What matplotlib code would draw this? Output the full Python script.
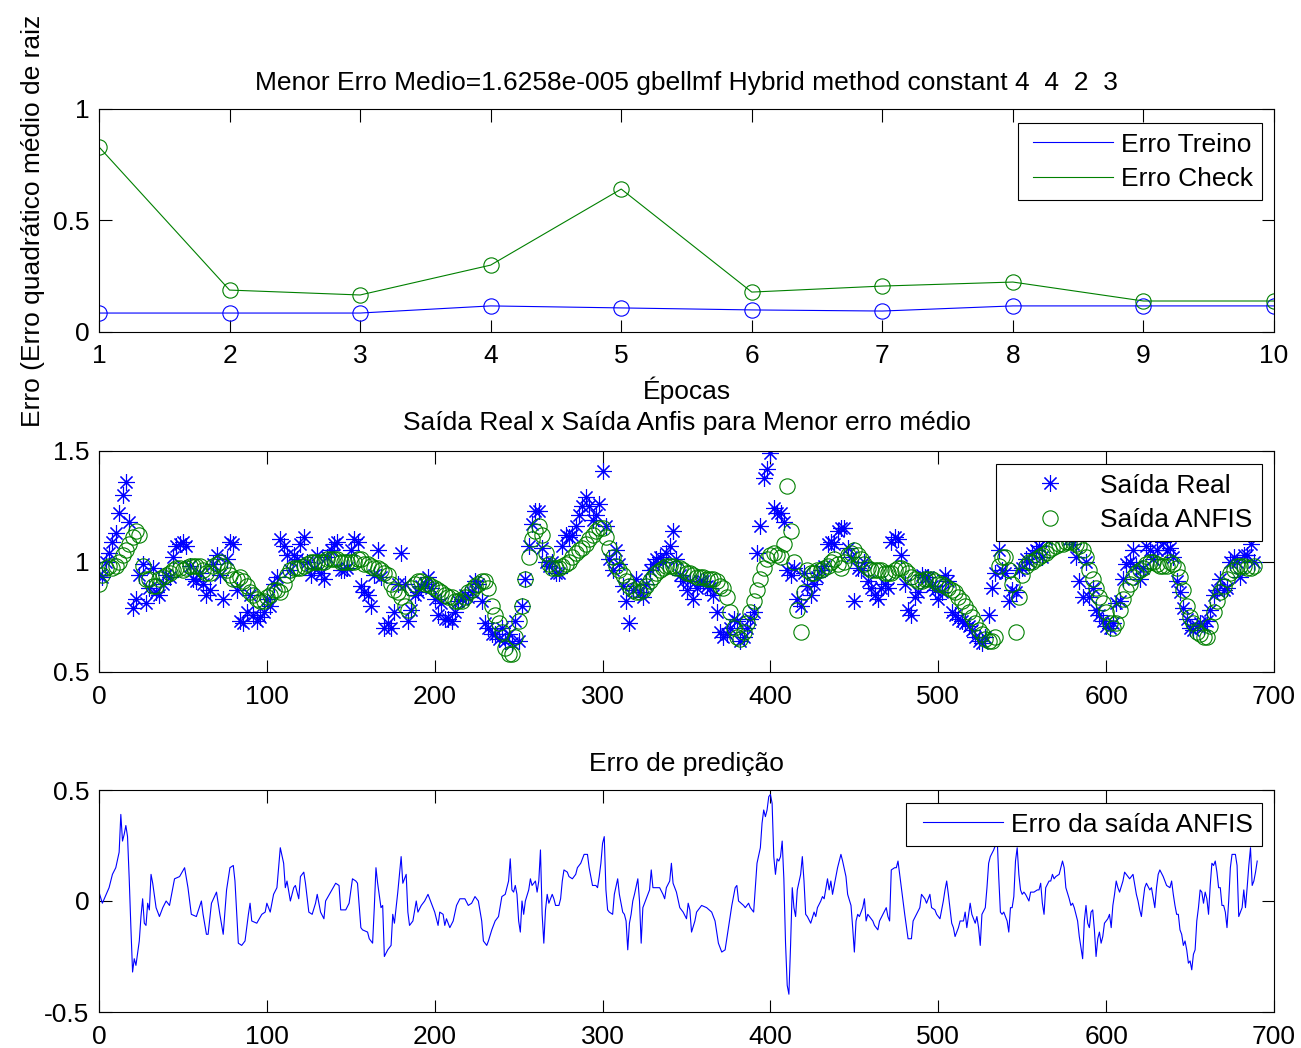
import matplotlib
matplotlib.use("Agg")
import matplotlib.pyplot as plt
from matplotlib.legend_handler import HandlerLine2D

plt.rcParams["font.family"] = ["Liberation Sans", "DejaVu Sans"]
plt.rcParams["font.size"] = 19

# --- Erro por época -------------------------------------------------------
epocas = [1, 2, 3, 4, 5, 6, 7, 8, 9, 10]
erro_treino = [0.085, 0.085, 0.085, 0.117, 0.108, 0.099, 0.094, 0.117, 0.117, 0.117]
erro_check = [0.830, 0.188, 0.166, 0.300, 0.641, 0.179, 0.206, 0.224, 0.139, 0.139]

# --- Saídas (amostra a cada 2 pontos) -------------------------------------
amostras = list(range(0, 690, 2))
saida_anfis = [
    0.90, 0.94, 0.97, 0.98, 0.97, 0.98, 1.00, 1.03, 1.05, 1.08,
    1.11, 1.14, 1.12, 0.98, 0.92, 0.92, 0.89, 0.89, 0.92, 0.93,
    0.94, 0.95, 0.96, 0.97, 0.97, 0.96, 0.97, 0.98, 0.98, 0.98,
    0.98, 0.96, 0.95, 0.95, 0.98, 0.99, 1.00, 0.98, 0.96, 0.94,
    0.92, 0.92, 0.93, 0.91, 0.89, 0.86, 0.85, 0.83, 0.82, 0.82,
    0.84, 0.85, 0.87, 0.87, 0.86, 0.90, 0.94, 0.96, 0.97, 0.97,
    0.97, 0.98, 0.99, 1.00, 1.00, 1.00, 1.00, 1.00, 1.01, 1.01,
    1.01, 1.01, 1.00, 1.00, 1.00, 1.00, 1.00, 1.01, 1.01, 0.99,
    0.99, 0.98, 0.97, 0.97, 0.96, 0.95, 0.94, 0.90, 0.87, 0.86,
    0.84, 0.80, 0.78, 0.88, 0.90, 0.91, 0.91, 0.90, 0.90, 0.89,
    0.88, 0.87, 0.86, 0.85, 0.84, 0.84, 0.82, 0.82, 0.82, 0.84,
    0.86, 0.87, 0.89, 0.90, 0.91, 0.91, 0.88, 0.80, 0.76, 0.72,
    0.68, 0.61, 0.58, 0.58, 0.66, 0.73, 0.80, 0.92, 1.02, 1.10,
    1.14, 1.16, 1.12, 1.04, 0.99, 0.97, 0.97, 0.97, 0.98, 0.99,
    1.00, 1.02, 1.04, 1.05, 1.06, 1.08, 1.10, 1.12, 1.14, 1.15,
    1.15, 1.11, 1.06, 1.02, 0.98, 0.96, 0.94, 0.91, 0.89, 0.87,
    0.86, 0.86, 0.87, 0.89, 0.91, 0.93, 0.95, 0.96, 0.97, 0.98,
    0.98, 0.98, 0.97, 0.97, 0.96, 0.95, 0.95, 0.94, 0.93, 0.93,
    0.93, 0.92, 0.92, 0.92, 0.91, 0.89, 0.88, 0.84, 0.77, 0.70,
    0.66, 0.65, 0.68, 0.72, 0.77, 0.82, 0.87, 0.92, 0.97, 1.01,
    1.03, 1.04, 1.03, 1.02, 1.08, 1.34, 1.14, 1.00, 0.78, 0.68,
    0.86, 0.96, 0.95, 0.95, 0.96, 0.96, 0.97, 0.98, 1.00, 1.01,
    0.99, 0.97, 1.00, 1.03, 1.04, 1.05, 1.03, 1.01, 0.99, 0.97,
    0.96, 0.96, 0.96, 0.96, 0.95, 0.95, 0.95, 0.96, 0.97, 0.97,
    0.96, 0.95, 0.93, 0.92, 0.91, 0.91, 0.92, 0.92, 0.92, 0.91,
    0.90, 0.90, 0.89, 0.88, 0.87, 0.86, 0.84, 0.82, 0.80, 0.77,
    0.75, 0.72, 0.69, 0.67, 0.65, 0.64, 0.64, 0.66, 0.98, 1.02,
    1.02, 0.96, 0.90, 0.68, 0.84, 0.94, 0.98, 1.00, 1.00, 1.01,
    1.02, 1.03, 1.04, 1.05, 1.06, 1.07, 1.08, 1.08, 1.09, 1.09,
    1.09, 1.08, 1.07, 1.05, 1.02, 0.96, 0.92, 0.88, 0.84, 0.81,
    0.77, 0.72, 0.70, 0.72, 0.78, 0.83, 0.87, 0.90, 0.93, 0.95,
    0.96, 0.97, 0.99, 1.00, 1.00, 0.99, 0.98, 0.98, 0.98, 1.00,
    0.99, 0.97, 0.93, 0.87, 0.80, 0.75, 0.72, 0.68, 0.67, 0.66,
    0.66, 0.71, 0.77, 0.82, 0.86, 0.89, 0.92, 0.95, 0.96, 0.98,
    0.98, 0.98, 0.97, 0.97, 0.98,
]
saida_real = [
    0.94, 0.93, 1.00, 1.04, 1.09, 1.13, 1.22, 1.30, 1.36, 1.18,
    0.79, 0.83, 0.94, 0.99, 0.81, 0.88, 0.97, 0.86, 0.85, 0.90,
    0.94, 0.93, 1.02, 1.07, 1.08, 1.09, 1.07, 0.98, 0.92, 0.91,
    0.95, 0.90, 0.85, 0.87, 0.99, 1.03, 0.94, 0.83, 1.01, 1.09,
    1.08, 0.87, 0.73, 0.72, 0.77, 0.85, 0.76, 0.73, 0.75, 0.77,
    0.83, 0.80, 0.90, 0.93, 1.10, 1.07, 1.03, 0.96, 1.03, 1.01,
    1.08, 1.11, 1.00, 0.94, 0.97, 1.03, 0.95, 0.92, 1.02, 1.05,
    1.08, 1.09, 0.96, 0.96, 0.97, 1.05, 1.10, 1.09, 0.89, 0.86,
    0.85, 0.80, 0.94, 1.05, 0.93, 0.70, 0.72, 0.70, 0.77, 0.90,
    1.04, 0.90, 0.73, 0.78, 0.85, 0.86, 0.89, 0.90, 0.93, 0.88,
    0.83, 0.76, 0.81, 0.74, 0.74, 0.73, 0.77, 0.82, 0.83, 0.85,
    0.84, 0.86, 0.91, 0.90, 0.82, 0.72, 0.70, 0.67, 0.67, 0.65,
    0.70, 0.64, 0.67, 0.63, 0.73, 0.64, 0.80, 0.92, 1.07, 1.17,
    1.23, 1.23, 1.06, 1.00, 0.98, 1.00, 0.95, 0.95, 1.07, 1.12,
    1.11, 1.12, 1.16, 1.21, 1.25, 1.29, 1.25, 1.19, 1.21, 1.26,
    1.41, 1.16, 1.01, 0.96, 1.05, 0.99, 0.89, 0.82, 0.72, 0.87,
    0.92, 0.86, 0.84, 0.90, 0.96, 0.99, 1.01, 1.02, 1.00, 1.04,
    1.07, 1.14, 1.01, 0.94, 0.91, 0.87, 0.91, 0.83, 0.88, 0.91,
    0.91, 0.89, 0.88, 0.85, 0.77, 0.68, 0.66, 0.67, 0.70, 0.74,
    0.73, 0.64, 0.66, 0.70, 0.74, 0.77, 1.04, 1.16, 1.38, 1.42,
    1.49, 1.24, 1.22, 1.22, 1.18, 0.96, 0.94, 0.97, 0.83, 0.80,
    0.95, 0.89, 0.85, 0.90, 0.93, 0.96, 0.98, 1.08, 1.09, 1.08,
    1.14, 1.15, 1.15, 1.06, 1.02, 0.82, 0.97, 0.96, 1.00, 0.91,
    0.88, 0.85, 0.83, 0.88, 0.90, 0.88, 1.09, 1.11, 1.10, 1.03,
    0.90, 0.78, 0.76, 0.84, 0.86, 0.94, 0.93, 0.93, 0.89, 0.87,
    0.83, 0.86, 0.94, 0.91, 0.77, 0.76, 0.74, 0.73, 0.72, 0.71,
    0.69, 0.66, 0.64, 0.63, 0.66, 0.76, 0.88, 0.95, 1.05, 0.96,
    0.95, 0.82, 0.87, 0.86, 0.96, 0.97, 1.01, 1.00, 1.04, 1.05,
    1.07, 1.02, 1.10, 1.14, 1.18, 1.18, 1.20, 1.26, 1.15, 1.10,
    1.08, 1.02, 0.91, 0.84, 1.00, 0.84, 0.88, 0.78, 0.76, 0.73,
    0.71, 0.70, 0.72, 0.81, 0.82, 0.92, 0.99, 1.00, 1.05, 0.98,
    0.92, 0.97, 1.07, 1.05, 1.01, 1.05, 1.12, 1.09, 1.05, 1.06,
    1.02, 0.91, 0.86, 0.79, 0.74, 0.70, 0.69, 0.71, 0.72, 0.71,
    0.73, 0.78, 0.85, 0.87, 0.92, 0.87, 0.88, 1.00, 1.02, 1.00,
    0.93, 1.03, 1.03, 1.08, 1.00,
]

# --- Erro de predição (saída real - saída ANFIS) --------------------------
amostras_erro = [
    0, 2, 6, 8, 10, 12, 13, 14, 15, 16, 17, 18, 19, 20, 21,
    22, 24, 25, 26, 27, 28, 29, 30, 31, 32, 34, 36, 38, 40, 42,
    45, 48, 51, 53, 55, 58, 61, 62, 64, 65, 67, 70, 72, 74, 76,
    78, 80, 81, 83, 85, 87, 89, 90, 91, 94, 97, 99, 100, 102, 104,
    106, 108, 110, 111, 112, 114, 116, 117, 119, 120, 122, 123, 125, 127, 129,
    130, 132, 134, 135, 138, 141, 143, 144, 147, 149, 151, 153, 154, 156, 157,
    160, 161, 163, 164, 165, 166, 168, 169, 170, 172, 174, 175, 176, 178, 180,
    181, 183, 184, 185, 187, 189, 190, 192, 194, 196, 198, 200, 202, 203, 205,
    206, 207, 209, 211, 213, 215, 218, 220, 222, 224, 226, 228, 229, 231, 232,
    234, 236, 238, 240, 242, 244, 245, 246, 247, 248, 249, 250, 251, 252, 253,
    254, 256, 257, 258, 260, 261, 262, 263, 264, 265, 266, 267, 268, 270, 271,
    272, 274, 275, 276, 277, 279, 280, 282, 284, 285, 287, 289, 291, 292, 294,
    296, 297, 298, 299, 300, 301, 302, 303, 304, 306, 307, 309, 310, 312, 313,
    314, 315, 316, 317, 318, 319, 321, 322, 323, 324, 326, 328, 329, 330, 332,
    334, 336, 337, 338, 340, 341, 342, 344, 346, 348, 350, 351, 352, 353, 355,
    356, 359, 362, 365, 367, 369, 371, 373, 375, 377, 379, 380, 381, 384, 385,
    387, 388, 390, 391, 392, 394, 395, 396, 397, 398, 399, 400, 401, 402, 403,
    404, 405, 406, 407, 408, 409, 410, 411, 412, 413, 414, 415, 416, 418, 419,
    420, 421, 422, 424, 426, 427, 428, 430, 431, 432, 434, 435, 436, 437, 439,
    440, 442, 443, 445, 446, 448, 449, 450, 451, 452, 453, 455, 456, 457, 458,
    459, 461, 462, 464, 465, 467, 469, 470, 471, 472, 474, 475, 476, 477, 479,
    480, 482, 484, 485, 487, 489, 490, 492, 493, 495, 496, 498, 499, 501, 503,
    504, 505, 506, 508, 509, 510, 512, 513, 515, 516, 517, 519, 520, 521, 522,
    523, 524, 525, 526, 528, 529, 530, 531, 533, 534, 535, 536, 537, 538, 539,
    540, 541, 542, 543, 544, 545, 546, 547, 548, 549, 550, 551, 552, 554, 555,
    557, 559, 560, 561, 562, 563, 564, 566, 567, 568, 569, 570, 572, 573, 574,
    575, 576, 578, 579, 580, 581, 583, 584, 585, 586, 587, 588, 589, 590, 591,
    592, 593, 594, 595, 596, 597, 598, 599, 601, 602, 603, 604, 605, 606, 607,
    608, 610, 611, 612, 614, 615, 616, 618, 619, 620, 621, 622, 623, 624, 626,
    627, 629, 630, 631, 632, 634, 635, 636, 638, 639, 640, 641, 642, 643, 644,
    645, 646, 647, 648, 649, 650, 651, 652, 653, 654, 655, 656, 657, 658, 659,
    660, 661, 662, 663, 664, 665, 666, 667, 668, 669, 670, 671, 672, 673, 674,
    675, 677, 678, 679, 680, 681, 682, 683, 684, 685, 686, 687, 688, 689, 690,
]
erro = [
    0.04, -0.01, 0.06, 0.12, 0.15, 0.22, 0.39, 0.27, 0.30, 0.34, 0.29, 0.10, -0.12, -0.32, -0.26,
    -0.29, -0.18, -0.07, 0.01, -0.10, -0.11, -0.01, -0.04, 0.12, 0.08, -0.03, -0.07, -0.03, 0.00, -0.02,
    0.10, 0.11, 0.15, 0.06, -0.06, -0.07, 0.00, -0.06, -0.15, -0.15, -0.01, 0.04, -0.06, -0.15, 0.05,
    0.15, 0.16, 0.09, -0.19, -0.20, -0.18, -0.06, -0.01, -0.09, -0.10, -0.06, -0.05, -0.01, -0.05, 0.03,
    0.06, 0.24, 0.17, 0.06, 0.09, 0.00, 0.06, 0.07, 0.01, 0.11, 0.13, 0.08, -0.05, -0.06, -0.01,
    0.03, -0.05, -0.08, 0.00, 0.04, 0.08, 0.07, -0.04, -0.04, -0.01, 0.10, 0.09, 0.08, -0.12, -0.13,
    -0.14, -0.17, -0.19, -0.03, 0.15, 0.08, -0.03, -0.02, -0.25, -0.22, -0.20, -0.06, -0.10, 0.04, 0.20,
    0.08, 0.12, -0.05, -0.11, -0.09, 0.00, -0.05, -0.02, 0.00, 0.03, -0.01, -0.05, -0.11, -0.05, -0.06,
    -0.11, -0.08, -0.12, -0.09, -0.02, 0.01, 0.01, -0.02, -0.01, 0.02, 0.00, -0.09, -0.18, -0.20, -0.18,
    -0.13, -0.09, -0.07, 0.02, 0.03, 0.09, 0.19, 0.05, 0.04, 0.07, 0.03, -0.09, -0.14, 0.00, -0.06,
    0.00, 0.05, 0.10, 0.07, 0.09, 0.04, 0.09, 0.23, -0.06, -0.19, -0.04, 0.03, -0.01, 0.03, 0.01,
    -0.02, -0.02, 0.01, 0.09, 0.14, 0.13, 0.11, 0.10, 0.12, 0.15, 0.17, 0.21, 0.21, 0.15, 0.07,
    0.07, 0.06, 0.11, 0.17, 0.26, 0.29, 0.05, -0.04, -0.05, -0.06, 0.03, 0.10, 0.03, -0.05, -0.06,
    -0.09, -0.22, -0.10, -0.06, 0.00, 0.03, 0.10, 0.00, -0.19, -0.03, 0.01, 0.05, 0.14, 0.06, 0.06,
    0.06, 0.03, 0.01, 0.06, 0.09, 0.17, 0.08, 0.04, -0.03, -0.05, -0.08, -0.01, -0.04, -0.14, -0.09,
    -0.05, -0.02, -0.03, -0.05, -0.09, -0.19, -0.23, -0.22, -0.12, -0.02, 0.06, 0.07, 0.00, -0.02, -0.03,
    -0.01, -0.03, -0.05, 0.06, 0.17, 0.24, 0.35, 0.41, 0.38, 0.41, 0.47, 0.48, 0.44, 0.20, 0.12,
    0.19, 0.18, 0.20, 0.27, 0.10, -0.19, -0.38, -0.42, -0.20, 0.06, -0.03, -0.07, 0.05, 0.12, 0.20,
    0.09, -0.06, -0.07, -0.10, -0.05, -0.07, -0.03, 0.00, 0.02, 0.01, 0.10, 0.05, 0.09, 0.03, 0.11,
    0.15, 0.21, 0.18, 0.11, 0.03, -0.02, -0.12, -0.23, -0.09, -0.06, -0.07, -0.03, 0.01, -0.09, -0.06,
    -0.07, -0.09, -0.11, -0.13, -0.09, -0.06, -0.03, -0.07, -0.09, 0.14, 0.15, 0.15, 0.18, 0.12, 0.00,
    -0.06, -0.17, -0.17, -0.09, -0.06, -0.03, 0.03, 0.01, -0.01, 0.03, -0.03, -0.04, -0.06, -0.08, 0.00,
    0.05, 0.09, 0.03, -0.10, -0.12, -0.16, -0.12, -0.09, -0.09, -0.05, -0.12, -0.01, -0.06, -0.08, -0.10,
    -0.07, -0.12, -0.20, -0.06, -0.03, 0.06, 0.17, 0.20, 0.23, 0.25, 0.30, 0.11, -0.05, -0.06, -0.05,
    -0.07, -0.09, -0.14, -0.03, -0.03, 0.02, 0.18, 0.24, 0.12, 0.05, 0.03, 0.04, 0.03, 0.00, 0.04,
    0.04, 0.05, 0.05, 0.08, -0.01, -0.06, 0.06, 0.09, 0.09, 0.12, 0.10, 0.11, 0.12, 0.15, 0.18,
    0.15, 0.06, 0.01, -0.02, -0.01, -0.03, -0.09, -0.16, -0.21, -0.26, -0.09, -0.02, -0.10, -0.12, -0.05,
    -0.04, -0.13, -0.25, -0.17, -0.14, -0.19, -0.16, -0.10, -0.08, -0.06, -0.12, -0.02, 0.03, 0.09, 0.06,
    0.04, 0.09, 0.13, 0.12, 0.10, 0.11, 0.12, 0.03, 0.00, -0.04, -0.07, 0.00, 0.06, 0.08, 0.05,
    0.06, -0.03, 0.06, 0.12, 0.14, 0.11, 0.09, 0.07, 0.06, 0.09, 0.03, -0.02, -0.06, -0.06, -0.13,
    -0.15, -0.20, -0.18, -0.22, -0.28, -0.27, -0.31, -0.24, -0.22, -0.09, -0.03, 0.05, 0.04, -0.01, 0.04,
    0.01, -0.06, 0.07, 0.17, 0.16, 0.18, 0.13, 0.06, 0.06, -0.02, -0.02, -0.05, -0.12, 0.00, 0.15,
    0.21, 0.21, 0.16, -0.07, -0.05, -0.03, 0.05, -0.03, 0.06, 0.16, 0.24, 0.07, 0.09, 0.13, 0.18,
]

AZUL = (0.0, 0.0, 1.0)
VERDE = (0.0, 0.5, 0.0)
W, H = 1301, 1048
FONTE = 19


class LinhaRecuada(HandlerLine2D):
    """Amostra de linha da legenda com um pequeno recuo à esquerda."""

    def __init__(self, recuo=0.0, **kw):
        super().__init__(**kw)
        self.recuo = recuo

    def get_xdata(self, legend, xdescent, ydescent, width, height, fontsize):
        x0 = -xdescent + self.recuo * width
        x1 = -xdescent + width
        return [x0, x1], [(x0 + x1) / 2]


def caixa(esq, topo, dir_, base):
    """Retângulo de eixos em pixels -> fração da figura."""
    return [esq / W, 1 - base / H, (dir_ - esq) / W, (base - topo) / H]


def estilo_matlab(ax):
    ax.tick_params(direction="in", top=True, right=True, length=9,
                   width=0.8, labelsize=FONTE)
    ax.tick_params(axis="x", pad=9)
    ax.tick_params(axis="y", pad=7)
    for sp in ax.spines.values():
        sp.set_linewidth(0.8)
        sp.set_color("black")


def legenda(ax, y_topo, **kw):
    leg = ax.legend(loc="upper right", bbox_to_anchor=(0.9898, y_topo),
                    borderaxespad=0, fancybox=False, framealpha=1,
                    edgecolor="black", fontsize=FONTE, borderpad=0.36,
                    labelspacing=0.39, **kw)
    leg.get_frame().set_linewidth(0.8)
    return leg


fig = plt.figure(figsize=(W / 100, H / 100), dpi=100)

# Painel 1: erro por época
ax1 = fig.add_axes(caixa(99, 109, 1274, 332))
l_treino, = ax1.plot(epocas, erro_treino, "-o", color=AZUL, lw=0.8, ms=11,
                     mfc="none", mew=0.8, label="Erro Treino")
l_check, = ax1.plot(epocas, erro_check, "-o", color=VERDE, lw=0.8, ms=11,
                    mfc="none", mew=0.8, label="Erro Check")
ax1.set_xlim(1, 10)
ax1.set_ylim(0, 1)
ax1.set_xticks(epocas)
ax1.set_yticks([0, 0.5, 1])
ax1.set_yticklabels(["0", "0.5", "1"])
estilo_matlab(ax1)
ax1.set_title("Menor Erro Medio=1.6258e-005 gbellmf Hybrid method constant 4  4  2  3",
              fontsize=FONTE, pad=13.5)
ax1.set_xlabel("Épocas", fontsize=FONTE, labelpad=6)
ax1.set_ylabel("Erro (Erro quadrático médio de raiz", fontsize=FONTE)
ax1.yaxis.set_label_coords(-0.0457, 0.5)
h1 = [plt.Line2D([], [], color=AZUL, lw=0.8), plt.Line2D([], [], color=VERDE, lw=0.8)]
legenda(ax1, 0.937, handles=h1, labels=["Erro Treino", "Erro Check"],
        handlelength=3.24, handletextpad=0.3,
        handler_map={plt.Line2D: LinhaRecuada(recuo=0.064)})

# Painel 2: saída real x saída ANFIS
ax2 = fig.add_axes(caixa(99, 451, 1274, 672))
ax2.plot(amostras, saida_real, ls="none", marker=(8, 2, 0), ms=12, mew=0.8,
         color=AZUL, label="Saída Real")
ax2.plot(amostras, saida_anfis, ls="none", marker="o", ms=11, mew=0.8,
         mfc="none", color=VERDE, label="Saída ANFIS")
ax2.set_xlim(0, 700)
ax2.set_ylim(0.5, 1.5)
ax2.set_xticks(range(0, 701, 100))
ax2.set_yticks([0.5, 1, 1.5])
ax2.set_yticklabels(["0.5", "1", "1.5"])
estilo_matlab(ax2)
ax2.set_title("Saída Real x Saída Anfis para Menor erro médio", fontsize=FONTE, pad=15)
legenda(ax2, 0.941, numpoints=1, handlelength=3.37, handletextpad=0.21)

# Painel 3: erro de predição
ax3 = fig.add_axes(caixa(99, 790, 1274, 1012))
ax3.plot(amostras_erro, erro, color=AZUL, lw=0.8, label="Erro da saída ANFIS")
ax3.set_xlim(0, 700)
ax3.set_ylim(-0.5, 0.5)
ax3.set_xticks(range(0, 701, 100))
ax3.set_yticks([-0.5, 0, 0.5])
ax3.set_yticklabels(["-0.5", "0", "0.5"])
estilo_matlab(ax3)
ax3.set_title("Erro de predição", fontsize=FONTE, pad=14)
legenda(ax3, 0.9414, handlelength=3.31, handletextpad=0.3,
        handler_map={plt.Line2D: LinhaRecuada(recuo=0.086)})

fig.savefig("out.png", dpi=100, facecolor="white")
